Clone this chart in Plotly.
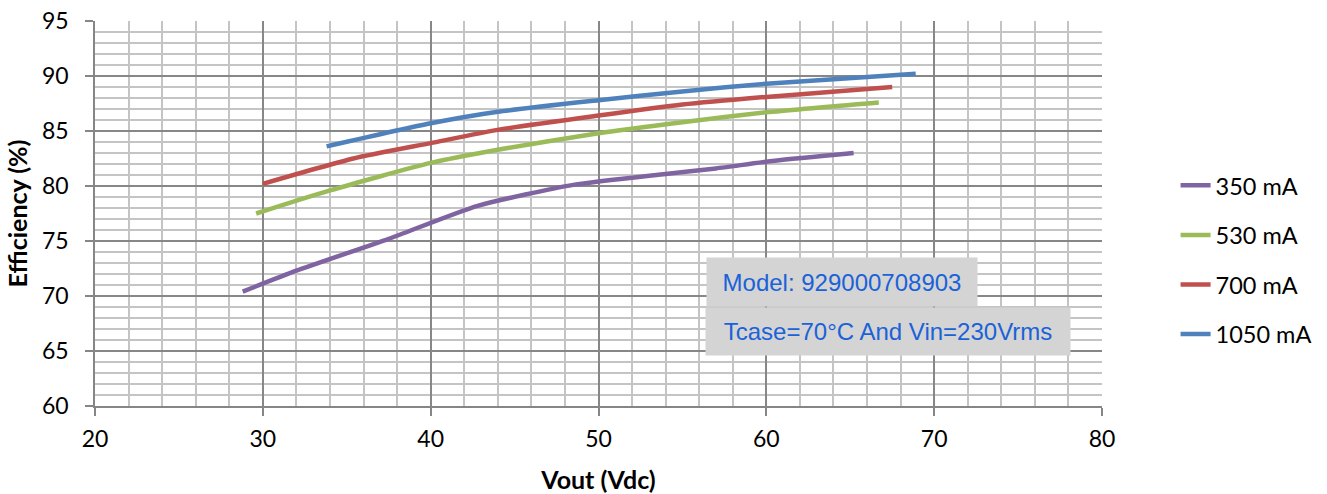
import plotly.graph_objects as go

# Data
x_350 = [28.8, 32.0, 37.5, 42.8, 48.5, 54.0, 57.0, 60.5, 65.2]
y_350 = [70.4, 72.3, 75.2, 78.2, 80.1, 81.1, 81.6, 82.3, 83.0]

x_530 = [29.6, 34.0, 40.0, 44.0, 50.0, 55.0, 60.0, 66.7]
y_530 = [77.5, 79.6, 82.1, 83.3, 84.8, 85.8, 86.7, 87.6]

x_700 = [30.0, 35.4, 40.0, 44.0, 50.0, 55.0, 60.0, 67.5]
y_700 = [80.2, 82.5, 83.9, 85.1, 86.4, 87.4, 88.1, 89.0]

x_1050 = [33.8, 40.0, 44.0, 50.0, 55.0, 60.0, 68.9]
y_1050 = [83.6, 85.7, 86.75, 87.8, 88.6, 89.3, 90.2]

series_names = ["350 mA", "530 mA", "700 mA", "1050 mA"]
series_colors = ["#8064A2", "#9BBB59", "#C0504D", "#4F81BD"]
series_x = [x_350, x_530, x_700, x_1050]
series_y = [y_350, y_530, y_700, y_1050]

x_ticks = [20, 30, 40, 50, 60, 70, 80]
y_ticks = [60, 65, 70, 75, 80, 85, 90, 95]

note_model = "Model: 929000708903"
note_cond = "Tcase=70°C And Vin=230Vrms"

FONT = "Lato"

fig = go.Figure()
for name, color, xs, ys in zip(series_names, series_colors, series_x, series_y):
    fig.add_trace(go.Scatter(
        x=xs, y=ys, mode="lines", name=name, legendgroup=name,
        line=dict(color=color, width=4.5, shape="spline", smoothing=0.6),
    ))

axis_common = dict(
    showline=True, linecolor="#868686", linewidth=1.5,
    ticks="outside", ticklen=8, tickcolor="#868686", tickwidth=1.5,
    showgrid=True, gridcolor="#878787", gridwidth=1.5, automargin=False,
    zeroline=False, tickfont=dict(family=FONT, size=23, color="#000000"),
)

fig.update_xaxes(
    range=[20, 80], tickvals=x_ticks, **axis_common, ticklabelstandoff=4,
    minor=dict(dtick=2, showgrid=True, gridcolor="#c4c4c4", gridwidth=1.5, ticks=""),
    title=dict(text="<b>Vout (Vdc)</b>", font=dict(family=FONT, size=25, color="#000000"), standoff=21),
)
fig.update_yaxes(
    range=[60, 95], tickvals=y_ticks, **axis_common, ticklabelstandoff=12,
    minor=dict(dtick=1, showgrid=True, gridcolor="#c4c4c4", gridwidth=1.5, ticks=""),
    title=dict(text="<b>Efficiency (%)</b>", font=dict(family=FONT, size=25, color="#000000"), standoff=7),
)

fig.add_annotation(
    xref="paper", yref="paper", x=(707 - 95) / 1008, y=(406 - 257) / 385,
    xanchor="left", yanchor="top", text=note_model, showarrow=False,
    font=dict(family="Liberation Sans", size=24, color="#1a62d8"),
    bgcolor="#d4d4d4", width=270, height=48, borderpad=0, align="center",
)
fig.add_annotation(
    xref="paper", yref="paper", x=(706 - 95) / 1008, y=(406 - 307) / 385,
    xanchor="left", yanchor="top", text=note_cond, showarrow=False,
    font=dict(family="Liberation Sans", size=24, color="#1a62d8"),
    bgcolor="#d4d4d4", width=364, height=47, borderpad=0, align="center",
)

fig.update_layout(
    width=1327, height=494,
    margin=dict(l=95, r=224, t=21, b=88),
    paper_bgcolor="white", plot_bgcolor="white",
    font=dict(family=FONT, size=23, color="#000000"),
    legend=dict(
        x=1.072, y=0.379, xanchor="left", yanchor="middle",
        font=dict(family=FONT, size=23.5, color="#000000"),
        tracegroupgap=16, bgcolor="rgba(0,0,0,0)",
    ),
    showlegend=True,
)

fig.write_html(
    "out.html",
    config={"displayModeBar": False},
    post_script="document.body.style.margin='0';document.body.style.overflow='hidden';",
)
